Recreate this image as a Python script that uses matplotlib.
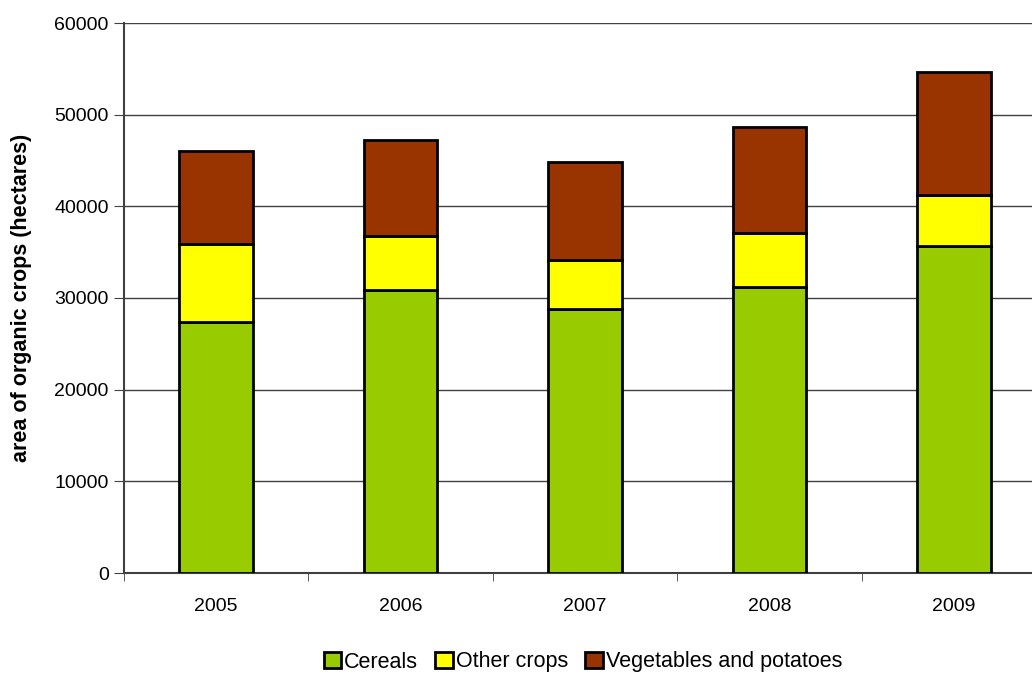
import matplotlib
matplotlib.use('Agg')
import matplotlib.pyplot as plt
import numpy as np

years = ['2005', '2006', '2007', '2008', '2009']
cereals = [27400, 30900, 28800, 31200, 35700]
other_crops = [8500, 5900, 5300, 5900, 5500]
vegetables = [10100, 10400, 10750, 11600, 13400]

plt.rcParams['font.family'] = ['Liberation Sans', 'DejaVu Sans']

fig = plt.figure(figsize=(10.32, 6.75), dpi=100)
# plot area runs past the right edge, like the original
ax = fig.add_axes([124 / 1032, 1 - 573 / 675, 922 / 1032, 550 / 675])

x = np.arange(len(years))
w = 0.4
kw = dict(width=w, edgecolor='black', linewidth=2, zorder=3)
ax.bar(x, cereals, color='#99CC00', label='Cereals', **kw)
ax.bar(x, other_crops, bottom=cereals, color='#FFFF00', label='Other crops', **kw)
bottom2 = np.array(cereals) + np.array(other_crops)
ax.bar(x, vegetables, bottom=bottom2, color='#993300', label='Vegetables and potatoes', **kw)

ax.set_xlim(-0.5, len(years) - 0.5)
ax.set_ylim(0, 60000)
ax.set_yticks(range(0, 60001, 10000))
ax.yaxis.grid(True, color='#404040', linewidth=1, zorder=0)
ax.set_axisbelow(True)

ax.set_xticks(x)
ax.set_xticklabels(years)
ax.set_xticks(np.arange(-0.5, len(years)), minor=True)
ax.tick_params(axis='x', which='major', length=0, pad=18, labelsize=14)
ax.tick_params(axis='x', which='minor', length=6, color='#404040', direction='out')
ax.tick_params(axis='y', length=7, color='#404040', labelsize=14, pad=4)

for s in ['top', 'right']:
    ax.spines[s].set_visible(False)
ax.spines['left'].set_color('#404040')
ax.spines['left'].set_linewidth(1.5)
ax.spines['bottom'].set_color('#404040')
ax.spines['bottom'].set_linewidth(1.5)

ax.set_ylabel('area of organic crops (hectares)', fontsize=15.5, fontweight='bold')
ax.yaxis.set_label_coords(-92 / 922, 0.5)

fig.legend(loc='center', bbox_to_anchor=(583 / 1032, 1 - 662 / 675), ncol=3, frameon=False,
           fontsize=15.5, handlelength=0.8, handleheight=0.8, handletextpad=0.15,
           columnspacing=0.8, borderaxespad=0)

fig.savefig('out.png', dpi=100)
